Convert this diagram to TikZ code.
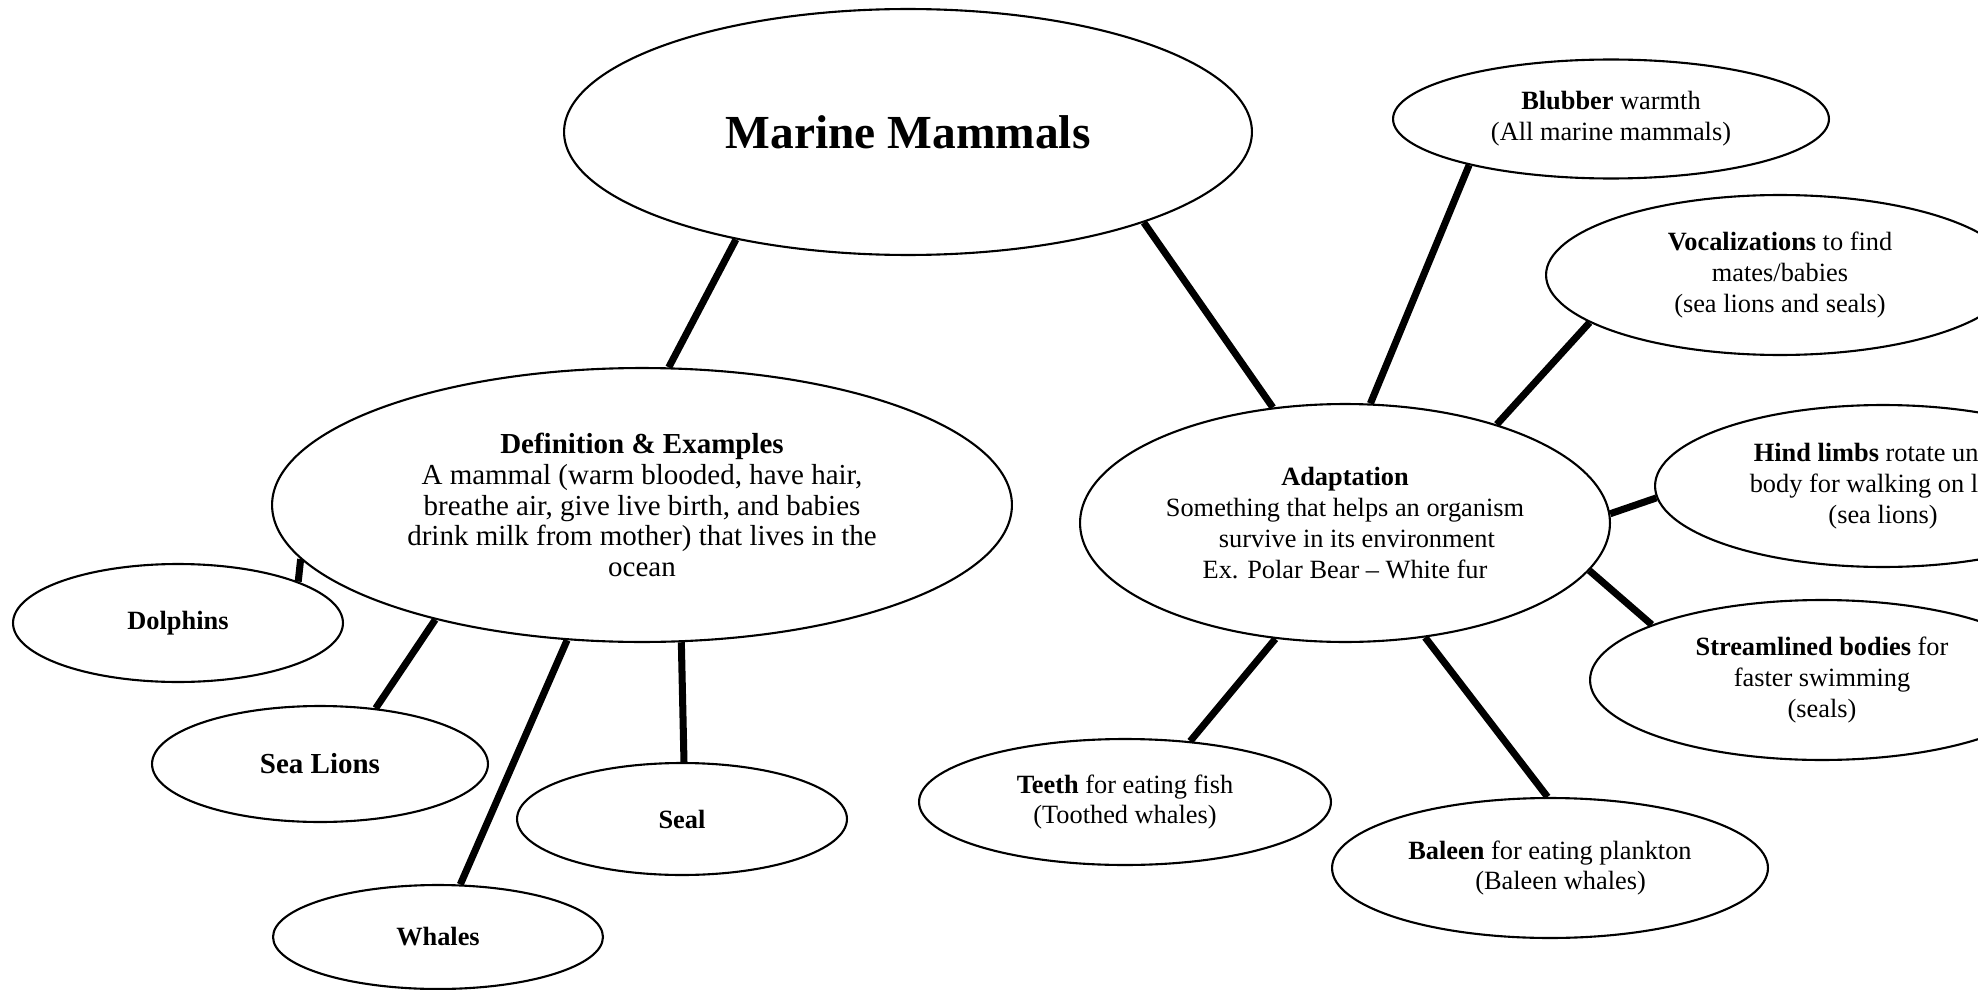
\documentclass[tikz,border=0pt]{standalone}
\usepackage{fontspec}
\setmainfont{Liberation Serif}
\usetikzlibrary{shapes.geometric}
\tikzset{
  bubble/.style={ellipse, draw=black, line width=1.2pt, inner sep=0pt,
                 align=center, font=\fontsize{15}{17.5}\selectfont},
  bigbubble/.style={bubble, font=\fontsize{16.5}{17.5}\selectfont},
  title/.style={bubble, font=\fontsize{27}{30}\selectfont\bfseries},
  link/.style={line width=4pt, black},
}
\begin{document}
\begin{tikzpicture}[x=0.02cm, y=-0.02cm]
\useasboundingbox (0,0) rectangle (1978,990);

\node[title, minimum width=13.76cm, minimum height=4.92cm] (mammals) at (908,132)
      {Marine Mammals};

% left branch
\node[bigbubble, minimum width=14.8cm, minimum height=5.48cm] (define) at (642,505)
      {\textbf{Definition \& Examples}\\A mammal (warm blooded, have hair,\\
       breathe air, give live birth, and babies\\
       drink milk from mother) that lives in the\\ocean};
\node[bubble, minimum width=6.6cm, minimum height=2.36cm] (dolphins) at (178,623)
      {\textbf{Dolphins}};
\node[bigbubble, minimum width=6.72cm, minimum height=2.32cm] (sealions) at (320,764)
      {\textbf{Sea Lions}};
\node[bubble, minimum width=6.6cm, minimum height=2.24cm] (seal) at (682,819)
      {\textbf{Seal}};
\node[bubble, minimum width=6.6cm, minimum height=2.08cm] (whales) at (438,937)
      {\textbf{Whales}};

% right branch
\node[bubble, minimum width=10.6cm, minimum height=4.76cm] (adapt) at (1345,523)
      {\textbf{Adaptation}\\Something that helps an organism\\
       \hspace*{0.9em}survive in its environment\\Ex. Polar Bear \textendash{} White fur};
\node[bubble, minimum width=8.72cm, minimum height=2.38cm] (blubber) at (1611,119)
      {\textbf{Blubber} warmth\\(All marine mammals)};
\node[bubble, minimum width=9.36cm, minimum height=3.2cm] (vocal) at (1780,275)
      {\textbf{Vocalizations} to find\\mates/babies\\(sea lions and seals)};
\node[bubble, minimum width=9.12cm, minimum height=3.24cm] (hind) at (1883,486)
      {\textbf{Hind limbs} rotate under\\body for walking on land\\(sea lions)};
\node[bubble, minimum width=9.28cm, minimum height=3.2cm] (stream) at (1822,680)
      {\textbf{Streamlined bodies} for\\faster swimming\\(seals)};
\node[bubble, minimum width=8.24cm, minimum height=2.52cm] (teeth) at (1125,802)
      {\textbf{Teeth} for eating fish\\(Toothed whales)};
\node[bubble, minimum width=8.72cm, minimum height=2.8cm] (baleen) at (1550,868)
      {\textbf{Baleen} for eating plankton\\\hspace*{0.8em}(Baleen whales)};

% connectors
\draw[link] (mammals.212.6) -- (define.79.8);
\draw[link] (mammals.339.2) -- (adapt.122.1);
\draw[link] (dolphins.19.5) -- (define.189.9);
\draw[link] (sealions.45) -- (define.209.1);
\draw[link] (whales.67.6) -- (define.241.9);
\draw[link] (seal.88) -- (define.286.7);
\draw[link] (blubber.198.8) -- (adapt.78.9);
\draw[link] (vocal.194.3) -- (adapt.33);
\draw[link] (hind.183) -- (adapt.2.6);
\draw[link] (stream.162.1) -- (adapt.349.6);
\draw[link] (teeth.43.2) -- (adapt.239.1);
\draw[link] (baleen.92.5) -- (adapt.305);

\end{tikzpicture}
\end{document}
